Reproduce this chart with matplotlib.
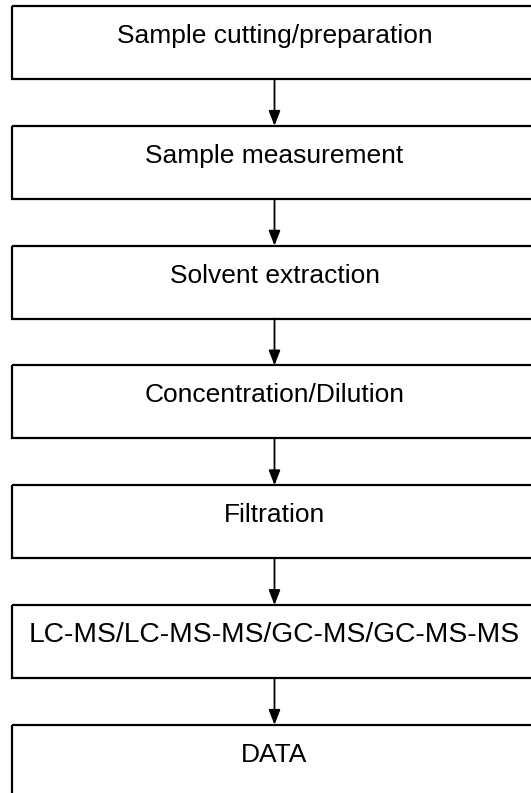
import matplotlib.pyplot as plt
from matplotlib.patches import Rectangle

plt.rcParams['font.family'] = ['Liberation Sans', 'DejaVu Sans']

steps = [
    'Sample cutting/preparation',
    'Sample measurement',
    'Solvent extraction',
    'Concentration/Dilution',
    'Filtration',
    'LC-MS/LC-MS-MS/GC-MS/GC-MS-MS',
    'DATA',
]

W, H = 531, 793
fig = plt.figure(figsize=(W / 100, H / 100), dpi=100)
ax = fig.add_axes([0, 0, 1, 1])
ax.set_xlim(0, W)
ax.set_ylim(H, 0)
ax.axis('off')

left, right = 12, 538
top0, pitch, box_h = 6, 119.8, 73
cx = (left + right) / 2 - 0.5

for i, label in enumerate(steps):
    top = top0 + i * pitch
    ax.add_patch(Rectangle((left, top), right - left, box_h, fill=False,
                           edgecolor='black', lw=1.6, clip_on=True))
    # the instrument line is set a touch larger in the original
    fs = 20.3 if label.startswith('LC-MS') else 19
    ax.text(cx, top + 37, label, ha='center', va='baseline', fontsize=fs)
    if i < len(steps) - 1:
        ax.annotate('', xy=(cx, top + pitch), xytext=(cx, top + box_h),
                    arrowprops=dict(arrowstyle='-|>,head_length=0.9,head_width=0.35',
                                    color='black', lw=1.3, shrinkA=0, shrinkB=0))

fig.savefig('out.png', dpi=100)
